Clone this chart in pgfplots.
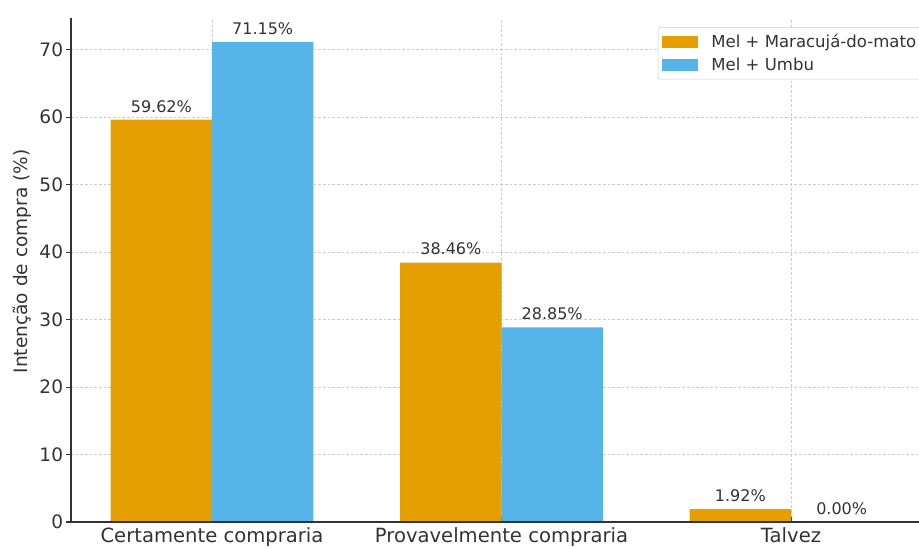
\documentclass[border=0pt]{standalone}
\usepackage{pgfplots}
\pgfplotsset{compat=1.18}
\usepackage{fontspec}
\setmainfont{DejaVu Sans}

\definecolor{mangoorange}{HTML}{E69F00}
\definecolor{umbublue}{HTML}{56B4E9}
\definecolor{txt}{HTML}{333333}
\definecolor{spine}{HTML}{333333}
\definecolor{gridc}{HTML}{CCCCCC}

\begin{document}
\begin{tikzpicture}
% fixed page frame around the plotting area
\path[use as bounding box] (-53.25pt,-19.5pt) rectangle (636pt,391.5pt);
\begin{axis}[
  scale only axis, width=636pt, height=378pt,
  xmin=-0.487, xmax=2.442, ymin=0, ymax=74.7,
  axis lines=left,
  axis line style={-, spine, line width=1.1pt},
  xtick={0,1,2},
  xticklabels={Certamente compraria, Provavelmente compraria, Talvez},
  ytick={0,10,...,70},
  tick align=outside, major tick length=3.75pt,
  tick style={spine, line width=0.8pt},
  every x tick/.append style={yshift=3.75pt},
  grid=major,
  major grid style={gridc, line width=0.5pt, dash pattern=on 2pt off 1.5pt},
  yticklabel style={font=\fontsize{13.9}{16}\selectfont, text=txt, inner sep=2pt},
  xticklabel style={font=\fontsize{14.7}{17}\selectfont, text=txt, inner sep=0pt},
  /pgf/number format/assume math mode=true,
  ylabel={Intenção de compra (\%)},
  every axis y label/.style={at={(axis description cs:-0.0578,0.517)}, anchor=center,
    rotate=90, font=\fontsize{13.9}{16}\selectfont, text=txt},
  nodes near coords={\pgfmathprintnumber[fixed,fixed zerofill,precision=2]{\pgfplotspointmeta}\%},
  nodes near coords style={font=\fontsize{12}{14}\selectfont, text=txt,
    anchor=south, inner sep=0pt, yshift=5.3pt},
  legend style={at={(0.692,0.982)}, anchor=north west, draw=gridc,
    rounded corners=2pt, fill=white, font=\fontsize{12.4}{14}\selectfont,
    text=txt, inner xsep=3pt, inner ysep=3pt, row sep=2.5pt,
    nodes={inner sep=2pt}, cells={anchor=west}},
  legend image code/.code={\fill[#1, sharp corners] (0pt,-4.5pt) rectangle (27pt,4.5pt);
    \path (35pt,0pt);},
]
% bars sit at category position -/+ half a bar width
\addplot[ybar, bar width=0.35, bar shift=0, fill=mangoorange, draw=none]
  coordinates {(-0.175,59.62) (0.825,38.46) (1.825,1.92)};
\addplot[ybar, bar width=0.35, bar shift=0, fill=umbublue, draw=none]
  coordinates {(0.175,71.15) (1.175,28.85) (2.175,0)};
\legend{Mel + Maracujá-do-mato, Mel + Umbu}
% baseline spine drawn again over the bar bottoms
\draw[spine, line width=1.1pt] (rel axis cs:0,0) -- (rel axis cs:1,0);
\end{axis}
\end{tikzpicture}
\end{document}
